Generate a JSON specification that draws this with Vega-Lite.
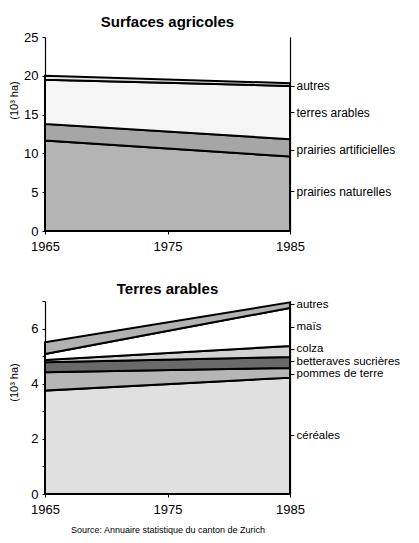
{
  "$schema": "https://vega.github.io/schema/vega-lite/v6.json",
  "background": "white",
  "padding": {"left": 8, "top": 15, "right": 2, "bottom": 5},
  "spacing": 29,
  "resolve": {"scale": {"color": "independent"}},
  "config": {
    "view": {"stroke": null},
    "font": "Liberation Sans",
    "axis": {"domainColor": "black", "tickColor": "black", "labelColor": "black", "titleColor": "black", "grid": false, "labelFont": "Liberation Sans", "titleFont": "Liberation Sans", "domainWidth": 1.2, "tickWidth": 1},
    "title": {"font": "Liberation Sans", "fontSize": 15, "fontWeight": "bold", "color": "black", "anchor": "middle", "frame": "group"}
  },
  "vconcat": [
    {
      "title": {"text": "Surfaces agricoles", "offset": 1},
      "width": 245,
      "height": 194,
      "data": {"values": [
        {"annee": 1965, "categorie": "prairies naturelles", "rang": 1, "valeur": 11.65},
        {"annee": 1965, "categorie": "prairies artificielles", "rang": 2, "valeur": 2.15},
        {"annee": 1965, "categorie": "terres arables", "rang": 3, "valeur": 5.7},
        {"annee": 1965, "categorie": "autres", "rang": 4, "valeur": 0.5},
        {"annee": 1985, "categorie": "prairies naturelles", "rang": 1, "valeur": 9.6},
        {"annee": 1985, "categorie": "prairies artificielles", "rang": 2, "valeur": 2.23},
        {"annee": 1985, "categorie": "terres arables", "rang": 3, "valeur": 6.87},
        {"annee": 1985, "categorie": "autres", "rang": 4, "valeur": 0.35}
      ]},
      "encoding": {
        "x": {"field": "annee", "type": "quantitative", "scale": {"domain": [1965, 1985], "nice": false, "zero": false},
          "axis": {"values": [1965, 1975, 1985], "format": "d", "title": null, "labelFontSize": 13, "tickSize": 3, "labelPadding": 6, "labelFlush": false}}
      },
      "layer": [
        {
          "mark": {"type": "area", "stroke": "black", "strokeWidth": 2, "opacity": 1},
          "encoding": {
            "y": {"field": "valeur", "type": "quantitative", "stack": "zero", "scale": {"domain": [0, 25], "nice": false},
              "axis": {"orient": "left", "values": [0, 5, 10, 15, 20, 25], "title": "(10³ ha)", "titleY": 63, "labelFontSize": 13, "tickSize": 3, "labelPadding": 4, "titleFontSize": 11, "titleFontWeight": "normal", "titlePadding": 4}},
            "color": {"field": "categorie", "type": "nominal", "legend": null,
              "scale": {"domain": ["prairies naturelles", "prairies artificielles", "terres arables", "autres"], "range": ["#b4b4b4", "#a6a6a6", "#f5f5f5", "#e6e6e6"]}},
            "order": {"field": "rang", "type": "quantitative"}
          }
        },
        {
          "mark": {"type": "area", "opacity": 0},
          "encoding": {
            "y": {"field": "valeur", "type": "quantitative", "stack": "zero",
              "axis": {"orient": "right", "values": [18.7, 15.3, 10.5, 5.1], "labelOverlap": false, "labelExpr": "datum.value == 18.7 ? 'autres' : datum.value == 15.3 ? 'terres arables' : datum.value == 10.5 ? 'prairies artificielles' : 'prairies naturelles'", "title": null, "labelFontSize": 12, "tickSize": 4, "labelPadding": 2}},
            "detail": {"field": "categorie"},
            "order": {"field": "rang", "type": "quantitative"}
          }
        }
      ],
      "resolve": {"axis": {"y": "independent"}}
    },
    {
      "title": {"text": "Terres arables", "offset": 1},
      "width": 245,
      "height": 193,
      "data": {"values": [
        {"annee": 1965, "categorie": "céréales", "rang": 1, "valeur": 3.75},
        {"annee": 1965, "categorie": "pommes de terre", "rang": 2, "valeur": 0.67},
        {"annee": 1965, "categorie": "betteraves sucrières", "rang": 3, "valeur": 0.36},
        {"annee": 1965, "categorie": "colza", "rang": 4, "valeur": 0.08},
        {"annee": 1965, "categorie": "maïs", "rang": 5, "valeur": 0.22},
        {"annee": 1965, "categorie": "autres", "rang": 6, "valeur": 0.42},
        {"annee": 1985, "categorie": "céréales", "rang": 1, "valeur": 4.22},
        {"annee": 1985, "categorie": "pommes de terre", "rang": 2, "valeur": 0.35},
        {"annee": 1985, "categorie": "betteraves sucrières", "rang": 3, "valeur": 0.4},
        {"annee": 1985, "categorie": "colza", "rang": 4, "valeur": 0.4},
        {"annee": 1985, "categorie": "maïs", "rang": 5, "valeur": 1.38},
        {"annee": 1985, "categorie": "autres", "rang": 6, "valeur": 0.2}
      ]},
      "encoding": {
        "x": {"field": "annee", "type": "quantitative", "scale": {"domain": [1965, 1985], "nice": false, "zero": false},
          "axis": {"values": [1965, 1975, 1985], "format": "d", "title": "Source: Annuaire statistique du canton de Zurich", "titleFontSize": 9, "titleFontWeight": "normal", "titlePadding": 9, "labelFontSize": 13, "tickSize": 3, "labelPadding": 6, "labelFlush": false}}
      },
      "layer": [
        {
          "mark": {"type": "area", "stroke": "black", "strokeWidth": 2, "opacity": 1},
          "encoding": {
            "y": {"field": "valeur", "type": "quantitative", "stack": "zero", "scale": {"domain": [0, 7], "nice": false},
              "axis": {"orient": "left", "values": [0, 1, 2, 3, 4, 5, 6, 7], "labelExpr": "datum.value % 2 == 0 ? datum.label : ''", "title": "(10³ ha)", "titleY": 81, "labelFontSize": 13, "tickSize": 3, "labelPadding": 4, "titleFontSize": 11, "titleFontWeight": "normal", "titlePadding": 11}},
            "color": {"field": "categorie", "type": "nominal", "legend": null,
              "scale": {"domain": ["céréales", "pommes de terre", "betteraves sucrières", "colza", "maïs", "autres"], "range": ["#e0e0e0", "#b6b6b6", "#6a6a6a", "#d2d2d2", "#ffffff", "#b2b2b2"]}},
            "order": {"field": "rang", "type": "quantitative"}
          }
        },
        {
          "mark": {"type": "area", "opacity": 0},
          "encoding": {
            "y": {"field": "valeur", "type": "quantitative", "stack": "zero",
              "axis": {"orient": "right", "values": [6.88, 6.06, 5.27, 4.82, 4.37, 2.13], "labelOverlap": false, "labelExpr": "datum.value == 6.88 ? 'autres' : datum.value == 6.06 ? 'maïs' : datum.value == 5.27 ? 'colza' : datum.value == 4.82 ? 'betteraves sucrières' : datum.value == 4.37 ? 'pommes de terre' : 'céréales'", "title": null, "labelFontSize": 11.5, "tickSize": 4, "labelPadding": 2}},
            "detail": {"field": "categorie"},
            "order": {"field": "rang", "type": "quantitative"}
          }
        }
      ],
      "resolve": {"axis": {"y": "independent"}}
    }
  ]
}
